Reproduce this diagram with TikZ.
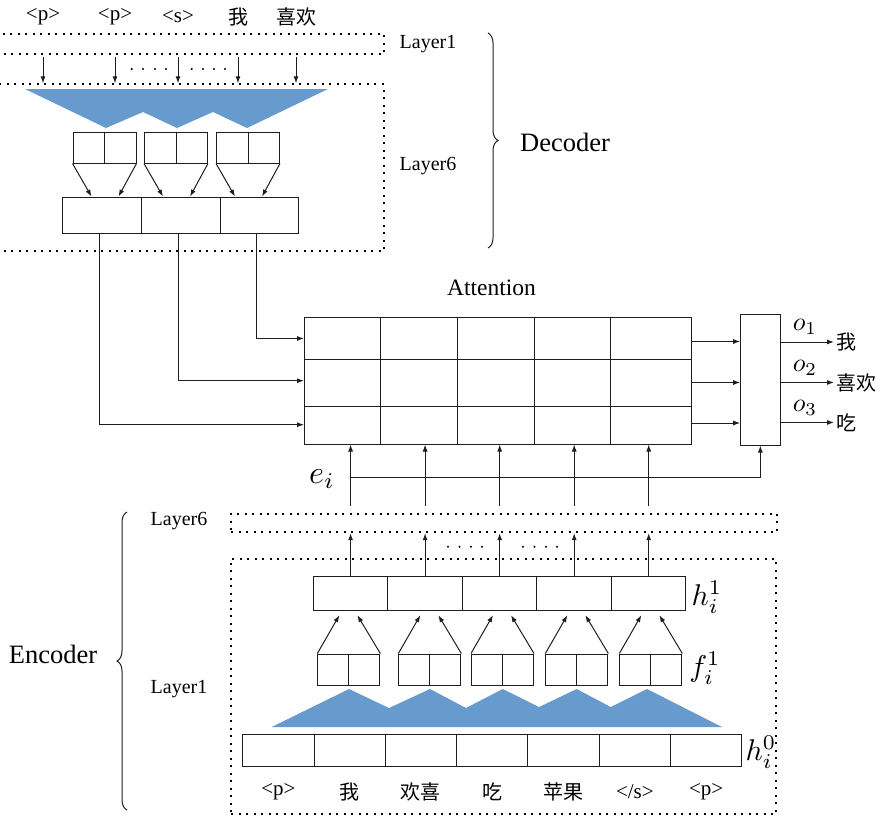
\RequirePackage{fix-cm}
\documentclass[tikz,border=0pt]{standalone}
\usepackage{fontspec}
\setmainfont{Liberation Serif}
\newfontfamily\cjk{Noto Sans CJK SC}
\usetikzlibrary{arrows.meta,decorations.pathreplacing,calc}
\definecolor{tri}{RGB}{104,155,205}
\definecolor{lc}{RGB}{30,30,30}
\tikzset{
  box/.style={draw=lc, line width=1pt, inner sep=0pt},
  plain/.style={draw=lc, line width=1pt},
  arr/.style={draw=lc, line width=1pt, -{Latex[length=7pt,width=5pt]}},
  dotbox/.style={draw=black, line width=2pt, dash pattern=on 2pt off 5.5pt, inner sep=0pt},
  lay/.style={font=\fontsize{20}{24}\selectfont, inner sep=0pt},
  tok/.style={font=\fontsize{21}{25}\selectfont, inner sep=0pt},
  cj/.style={font=\cjk\fontsize{20}{24}\selectfont, inner sep=0pt},
  bigl/.style={font=\fontsize{26.5}{30}\selectfont, inner sep=0pt},
  attl/.style={font=\fontsize{23.5}{28}\selectfont, inner sep=0pt},
  mlab/.style={font=\fontsize{10}{12}\selectfont, inner sep=0pt, scale=3.0},
  olab/.style={font=\fontsize{10}{12}\selectfont, inner sep=0pt, scale=2.6},
  elab/.style={font=\fontsize{10}{12}\selectfont, inner sep=0pt, scale=3.2},
  brc/.style={draw=lc, line width=1pt, decorate, decoration={brace, amplitude=10pt}},
  dotm/.style={fill=black}
}
\begin{document}
\begin{tikzpicture}[x=1pt,y=-1pt]
\useasboundingbox (0,0) rectangle (879,817);

% ---------------- Decoder ----------------
\node[tok] (t1) at (43,17) {<p>};
\node[tok] (t2) at (115,17) {<p>};
\node[tok] (t3) at (178,17) {<s>};
\node[cj]  (t4) at (238,17) {我};
\node[cj]  (t5) at (296,17) {喜欢};

\node[dotbox, anchor=north west, minimum width=403pt, minimum height=20pt] (dL1) at (-20,33.3) {};
\node[dotbox, anchor=north west, minimum width=403pt, minimum height=166.7pt] (dL6) at (-20,83.3) {};

\foreach \i in {1,...,5}
  \draw[arr] ($(t\i |- dL1.south)+(0,2)$) -- (t\i |- dL6.north);
\foreach \x in {131.7,143,155,166,191.7,203,214,225}
  \fill[dotm] (\x,69) circle (1.2pt);

\fill[tri] (25,89) -- (106,128) -- (143,112) -- (177,128) -- (213,112) -- (247,128) -- (328,89) -- cycle;

\foreach \i/\c in {1/104.5,2/176,3/248} {
  \node[box, minimum width=63pt, minimum height=31pt] (dsb\i) at (\c,147.5) {};
  \draw[plain] (dsb\i.north) -- (dsb\i.south);
}
\foreach \i/\c in {1/102.2,2/181,3/259.3}
  \node[box, minimum width=78.6pt, minimum height=36.3pt] (dc\i) at (\c,215.2) {};
\foreach \i in {1,2,3} {
  \draw[arr] (dsb\i.south west) -- ($(dsb\i.south |- dc1.north)+(-13,0)$);
  \draw[arr] (dsb\i.south east) -- ($(dsb\i.south |- dc1.north)+(14,0)$);
}

\node[lay] (dlay1) at (428,44) {Layer1};
\node[lay] (dlay6) at (428,166) {Layer6};
\draw[brc] (488,33) -- (488,248);
\node[bigl] (dec) at (565,142) {Decoder};

% ---------------- Attention ----------------
\node[attl] (attlab) at (491.5,288) {Attention};
\node[box, anchor=north west, minimum width=387.3pt, minimum height=126.8pt] (att) at (304,316.7) {};
\foreach \x in {380.7,457.3,534,610.7}
  \draw[plain] (\x,316.7) -- (\x,443.5);
\foreach \y in {359.3,406}
  \draw[plain] (304,\y) -- (691.3,\y);

\coordinate (aw1) at (304,338.5);
\coordinate (aw2) at (304,380.7);
\coordinate (aw3) at (304,424.7);
\draw[arr] ($(dc3.south)+(-3,0)$) |- (aw1);
\draw[arr] ($(dc2.south)+(-3,0)$) |- (aw2);
\draw[arr] ($(dc1.south)+(-3,0)$) |- (aw3);

\node[box, minimum width=39.3pt, minimum height=130.5pt] (ob) at (760.35,379.75) {};
\foreach \y in {341.5,382.5,423}
  \draw[arr] (att.east |- 0,\y) -- (ob.west |- 0,\y);

\node[cj, anchor=west, inner sep=2pt] (w1) at (834,342) {我};
\node[cj, anchor=west, inner sep=2pt] (w2) at (834,382.5) {喜欢};
\node[cj, anchor=west, inner sep=2pt] (w3) at (834,422.5) {吃};
\foreach \i in {1,2,3}
  \draw[arr] (ob.east |- w\i) -- (w\i.west);
\node[olab] (o1) at (805,327) {$o_1$};
\node[olab] (o2) at (805,368) {$o_2$};
\node[olab] (o3) at (805,408) {$o_3$};

% ---------------- Encoder ----------------
\node[dotbox, anchor=north west, minimum width=546pt, minimum height=18.5pt] (eL6) at (230,512.7) {};
\node[dotbox, anchor=north west, minimum width=545pt, minimum height=255.8pt] (eL1) at (230,557.5) {};

\foreach \i/\c in {1/350.6,2/425.1,3/499.7,4/574.2,5/648.7}
  \node[box, minimum width=74.55pt, minimum height=34.7pt] (hc\i) at (\c,593.35) {};

\foreach \i in {1,...,5} {
  \draw[arr] ($(hc\i.north |- eL6.north)+(0,-7)$) -- (hc\i.north |- att.south);
  \draw[arr] (hc\i.north) -- (hc\i.north |- eL6.south);
}
\coordinate (es) at (349.5,477.7);
\draw[arr] (es) -| (ob.south);
\node[elab] (elabel) at (322,479) {$e_i$};

\foreach \x in {448,459.5,471,482,523,534.5,546,557}
  \fill[dotm] (\x,546.7) circle (1.2pt);

\node[mlab] (h1lab) at (707,597) {$h_i^1$};

\foreach \i/\c in {1/348.85,2/429.85,3/502.5,4/576.85,5/650.85} {
  \node[box, minimum width=62pt, minimum height=31pt] (esb\i) at (\c,669.5) {};
  \draw[plain] (esb\i.north) -- (esb\i.south);
  \draw[arr] (esb\i.north west) -- ($(esb\i.north |- hc1.south)+(-9.5,4)$);
  \draw[arr] (esb\i.north east) -- ($(esb\i.north |- hc1.south)+(8.5,4)$);
}
\node[mlab] (f1lab) at (705,668) {$f_i^1$};

\fill[tri] (271.7,727) -- (349,689) -- (389,708) -- (430,689) -- (466,708) -- (502.7,689) -- (539,707) -- (576.7,689) -- (610.7,707) -- (647,689) -- (722,727) -- cycle;

\foreach \i/\c in {1/278.35,2/349.65,3/420.95,4/492.25,5/563.55,6/634.85,7/706.15}
  \node[box, minimum width=71.3pt, minimum height=32.4pt] (h0c\i) at (\c,750.5) {};
\node[mlab] (h0lab) at (761,752) {$h_i^0$};

\node[tok] (b1) at (h0c1 |- 0,791.7) {<p>};
\node[cj]  (b2) at (h0c2 |- 0,791.7) {我};
\node[cj]  (b3) at (h0c3 |- 0,791.7) {欢喜};
\node[cj]  (b4) at (h0c4 |- 0,791.7) {吃};
\node[cj]  (b5) at (h0c5 |- 0,791.7) {苹果};
\node[tok] (b6) at (h0c6 |- 0,791.7) {</s>};
\node[tok] (b7) at (h0c7 |- 0,791.7) {<p>};

\node[lay] (elay6) at (179,521) {Layer6};
\node[lay] (elay1) at (179,689) {Layer1};
\draw[brc] (127,810) -- (127,512);
\node[bigl] (enc) at (53,654) {Encoder};
\end{tikzpicture}
\end{document}
